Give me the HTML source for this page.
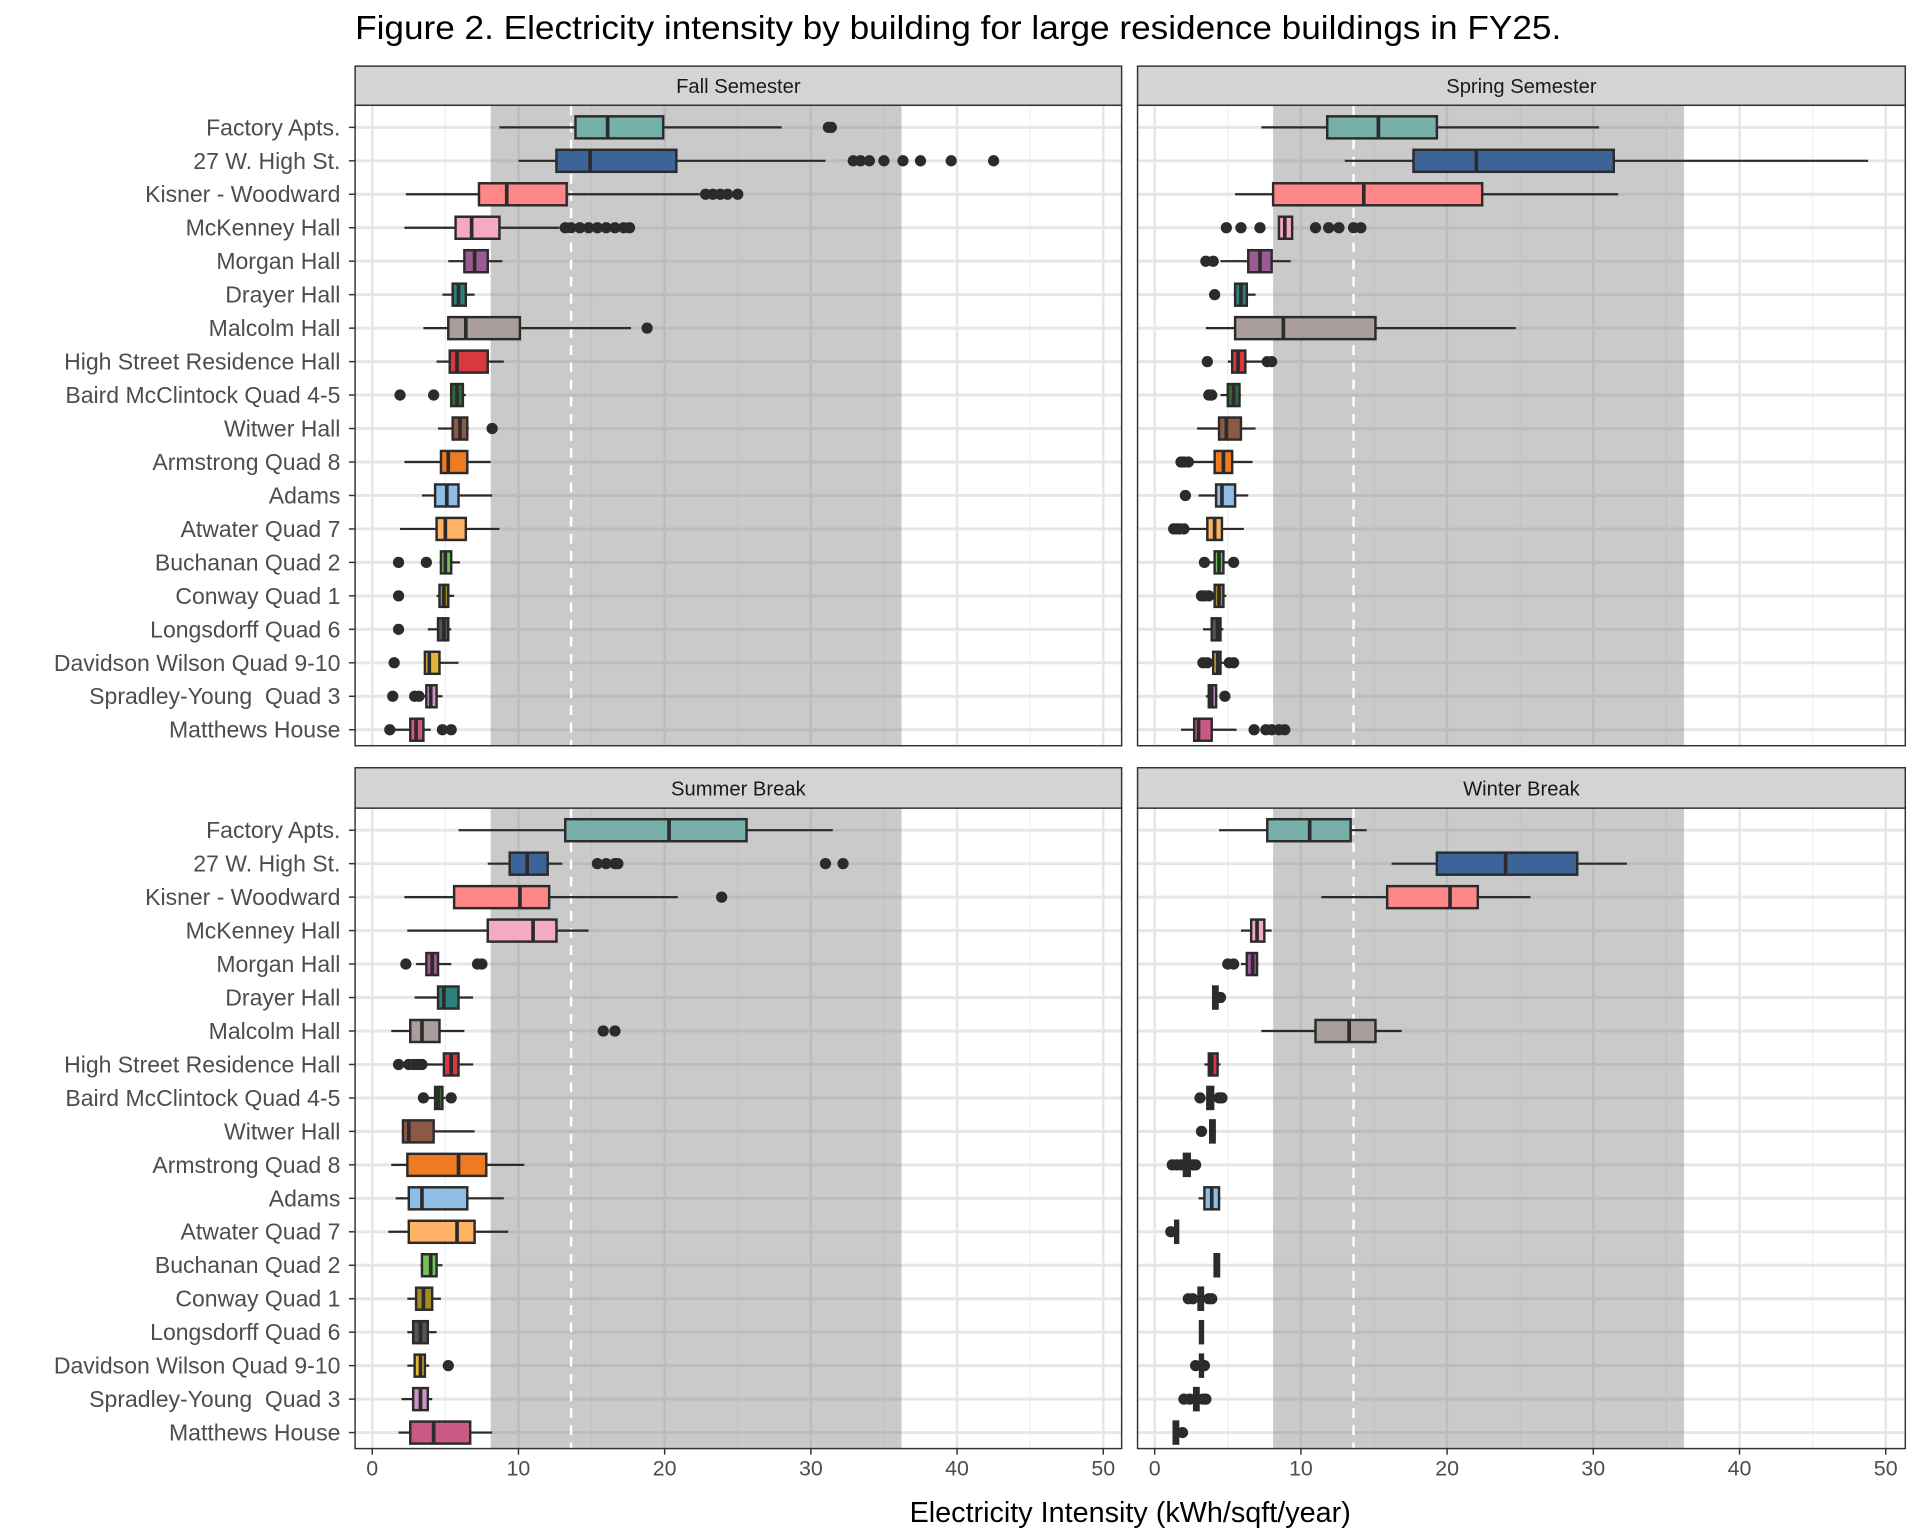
<!DOCTYPE html>
<html><head><meta charset="utf-8"><style>
html,body{margin:0;padding:0;background:#fff;}
svg{display:block;font-family:"Liberation Sans",Arial,sans-serif;}
text{white-space:pre;}
</style></head><body>
<svg id="chart" width="1920" height="1536" viewBox="0 0 1568 1254.4" xmlns="http://www.w3.org/2000/svg"></svg>
<script>
const buildings = ["Factory Apts.","27 W. High St.","Kisner - Woodward","McKenney Hall","Morgan Hall","Drayer Hall","Malcolm Hall","High Street Residence Hall","Baird McClintock Quad 4-5","Witwer Hall","Armstrong Quad 8","Adams","Atwater Quad 7","Buchanan Quad 2","Conway Quad 1","Longsdorff Quad 6","Davidson Wilson Quad 9-10","Spradley-Young  Quad 3","Matthews House"];
const colors = ["#76b0a8","#3c6496","#ff8787","#f4a9c4","#9c5a92","#2e7f7a","#aa9e9c","#d9383f","#2d6b3a","#8a5a44","#ee7a22","#8fbde6","#ffb266","#72c25a","#a48c22","#555555","#e3b43c","#c994c7","#c85a85"];
const xTicks = [0,10,20,30,40,50];
const bandRange = [8.1,36.2];
const refLine = 13.6;
const panelTitles = ["Fall Semester","Spring Semester","Summer Break","Winter Break"];
// [low whisker, q1, median, q3, high whisker]
const fallStats = [[8.7,13.9,16.1,19.9,28],[10,12.6,14.9,20.8,31],[2.3,7.3,9.2,13.3,22.4],[2.2,5.7,6.8,8.7,12.8],[5.2,6.3,7.0,7.9,8.9],[4.8,5.5,5.9,6.4,7],[3.5,5.2,6.4,10.1,17.7],[4.4,5.3,5.8,7.9,9],[5.4,5.4,5.8,6.2,6.4],[4.5,5.5,6,6.5,6.6],[2.2,4.7,5.2,6.5,8.1],[3.4,4.3,5.1,5.9,8.2],[1.9,4.4,5.0,6.4,8.7],[4.6,4.7,5,5.4,6],[4.4,4.6,4.9,5.2,5.6],[3.8,4.5,4.9,5.2,5.4],[3.6,3.6,3.9,4.6,5.9],[3.4,3.7,4,4.4,4.8],[1.5,2.6,3,3.5,4]];
const fallOut = [[31.2,31.4],[32.9,33.4,34,35,36.3,37.5,39.6,42.5],[22.8,23.3,23.8,24.3,25],[13.2,13.6,14.2,14.8,15.4,16,16.6,17.2,17.6],[],[],[18.8],[],[1.9,4.2],[8.2],[],[],[],[1.8,3.7],[1.8],[1.8],[1.5],[1.4,2.9,3.2],[1.2,4.8,5.4]];
const springStats = [[7.3,11.8,15.3,19.3,30.4],[13,17.7,22,31.4,48.8],[5.5,8.1,14.3,22.4,31.7],[8.5,8.5,8.9,9.4,9.5],[4.5,6.4,7.2,8,9.3],[5.4,5.5,5.9,6.3,6.9],[3.5,5.5,8.8,15.1,24.7],[5,5.3,5.7,6.2,7.4],[4.5,5,5.4,5.8,5.9],[2.9,4.4,4.9,5.9,6.9],[2.5,4.1,4.7,5.3,6.7],[3,4.2,4.6,5.5,6.4],[2.2,3.6,4.1,4.6,6.1],[3.5,4.1,4.4,4.7,5.3],[3.9,4.1,4.4,4.7,4.9],[3.3,3.9,4.3,4.5,4.7],[3.4,4.0,4.3,4.5,4.9],[3.5,3.7,3.9,4.2,4.3],[1.8,2.7,3,3.9,5.6]];
const springOut = [[],[],[],[4.9,5.9,7.2,11,11.9,12.6,13.6,14.1],[3.5,4.0],[4.1],[],[3.6,7.7,8.0],[3.7,3.9],[],[1.8,2.0,2.3],[2.1],[1.3,1.5,1.7,2.0],[3.4,5.4],[3.2,3.4,3.7],[],[3.3,3.6,5.1,5.4],[4.8],[6.8,7.6,8,8.5,8.9]];
const summerStats = [[5.9,13.2,20.3,25.6,31.5],[7.9,9.4,10.6,12,13],[2.2,5.6,10.1,12.1,20.9],[2.4,7.9,11,12.6,14.8],[3.0,3.7,4.1,4.5,5.4],[2.9,4.5,4.9,5.9,6.9],[1.3,2.6,3.4,4.6,6.3],[3.6,4.9,5.4,5.9,6.9],[3.8,4.3,4.5,4.8,5.0],[2.1,2.1,2.5,4.2,7],[1.3,2.4,5.9,7.8,10.4],[1.6,2.5,3.4,6.5,9],[1.1,2.5,5.8,7,9.3],[3.3,3.4,4.0,4.4,4.8],[2.4,3.0,3.5,4.1,4.7],[2.4,2.8,3.3,3.8,4.4],[2.4,2.9,3.3,3.6,3.9],[2,2.8,3.3,3.8,4.1],[1.8,2.6,4.2,6.7,8.2]];
const summerOut = [[],[15.4,16,16.6,16.8,31,32.2],[23.9],[],[2.3,7.2,7.5],[],[15.8,16.6],[1.8,2.5,2.8,3,3.2,3.4],[3.5,5.4],[],[],[],[],[],[],[],[5.2],[],[]];
const winterStats = [[4.4,7.7,10.6,13.4,14.5],[16.2,19.3,24,28.9,32.3],[11.4,15.9,20.2,22.1,25.7],[5.9,6.6,7.0,7.5,8],[5.9,6.3,6.7,7.0,7.1],[4.0,4.0,4.1,4.3,4.3],[7.3,11,13.3,15.1,16.9],[3.4,3.7,3.9,4.3,4.5],[3.5,3.6,3.8,4.0,4.1],[3.8,3.8,4.0,4.1,4.2],[2.0,2.0,2.2,2.4,2.5],[3,3.4,3.9,4.4,4.5],[1.4,1.4,1.5,1.6,1.6],[4.1,4.1,4.2,4.4,4.4],[2.9,3.0,3.1,3.3,3.3],[3.1,3.1,3.2,3.3,3.3],[3.0,3.1,3.2,3.3,3.4],[2.6,2.7,2.8,3.0,3.1],[1.3,1.3,1.4,1.6,1.6]];
const winterOut = [[],[],[],[],[5,5.4],[4.5],[],[],[3.1,4.4,4.6],[3.2],[1.2,1.5,1.8,2.6,2.8],[],[1.1],[],[2.3,2.6,3.7,3.9],[],[2.8,3.4],[2.0,2.4,3.3,3.5],[1.9]];

const NS="http://www.w3.org/2000/svg";
const svg=document.getElementById('chart');
function mk(tag,attrs,parent){const e=document.createElementNS(NS,tag);for(const k in attrs)e.setAttribute(k,attrs[k]);(parent||svg).appendChild(e);return e;}

const title=mk('text',{x:290,y:32,'font-size':27,fill:'#000',textLength:985,lengthAdjust:'spacingAndGlyphs'});


title.textContent='Figure 2. Electricity intensity by building for large residence buildings in FY25.';

const panels=[
 {x0:290,x1:916,st:54,y0:86,y1:609,stats:fallStats,out:fallOut,name:'fall'},
 {x0:929,x1:1556,st:54,y0:86,y1:609,stats:springStats,out:springOut,name:'spring'},
 {x0:290,x1:916,st:627,y0:660,y1:1183,stats:summerStats,out:summerOut,name:'summer'},
 {x0:929,x1:1556,st:627,y0:660,y1:1183,stats:winterStats,out:winterOut,name:'winter'}];

panels.forEach((p,pi)=>{
  const g=mk('g',{});
  
  
  const zero=p.x0+14;
  const xs=v=>zero+v*11.94;
  const ys=i=>p.y0+18+i*27.33;
  const s=mk('rect',{x:p.x0,y:p.st,width:p.x1-p.x0,height:p.y0-p.st,fill:'#d4d4d4',stroke:'#333','stroke-width':1.2},g);
  
  
  const st=mk('text',{x:(p.x0+p.x1)/2,y:(p.st+p.y0)/2+6,'text-anchor':'middle','font-size':16.5,fill:'#1a1a1a'},g);
  
  
  st.textContent=panelTitles[pi];
  mk('rect',{x:p.x0,y:p.y0,width:p.x1-p.x0,height:p.y1-p.y0,fill:'#fff'},g);
  for(let v=5;v<=55;v+=10){if(xs(v)<p.x1)mk('line',{x1:xs(v),x2:xs(v),y1:p.y0,y2:p.y1,stroke:'#f0f0f0','stroke-width':1},g);}
  xTicks.forEach(v=>mk('line',{x1:xs(v),x2:xs(v),y1:p.y0,y2:p.y1,stroke:'#e6e6e6','stroke-width':2},g));
  buildings.forEach((b,i)=>mk('line',{x1:p.x0,x2:p.x1,y1:ys(i),y2:ys(i),stroke:'#e6e6e6','stroke-width':2.4},g));
  const band=mk('rect',{x:xs(bandRange[0]),y:p.y0,width:xs(bandRange[1])-xs(bandRange[0]),height:p.y1-p.y0,fill:'#8a8a8a','fill-opacity':0.45},g);
  
  
  const rl=mk('line',{x1:xs(refLine),x2:xs(refLine),y1:p.y0,y2:p.y1,stroke:'#fff','stroke-width':2,'stroke-dasharray':'8,6'},g);
  
  
  p.stats.forEach((d,i)=>{
    const y=ys(i),h=18;
    const bg=mk('g',{},g);
    
    
    mk('line',{x1:xs(d[0]),x2:xs(d[1]),y1:y,y2:y,stroke:'#2b2b2b','stroke-width':1.8},bg);
    mk('line',{x1:xs(d[3]),x2:xs(d[4]),y1:y,y2:y,stroke:'#2b2b2b','stroke-width':1.8},bg);
    mk('rect',{x:xs(d[1]),y:y-h/2,width:Math.max(xs(d[3])-xs(d[1]),1),height:h,fill:colors[i],stroke:'#2b2b2b','stroke-width':2},bg);
    mk('line',{x1:xs(d[2]),x2:xs(d[2]),y1:y-h/2,y2:y+h/2,stroke:'#2b2b2b','stroke-width':3},bg);
    p.out[i].forEach(v=>mk('circle',{cx:xs(v),cy:y,r:4.6,fill:'#2b2b2b'},bg));
  });
  mk('rect',{x:p.x0,y:p.y0,width:p.x1-p.x0,height:p.y1-p.y0,fill:'none',stroke:'#333','stroke-width':1.2},g);
  if(p.x0===290){
    buildings.forEach((b,i)=>{
      mk('line',{x1:p.x0-5,x2:p.x0,y1:ys(i),y2:ys(i),stroke:'#333','stroke-width':1.2},g);
      const t=mk('text',{x:p.x0-12,y:ys(i)+6.5,'text-anchor':'end','font-size':18.8,fill:'#4d4d4d'},g);
      
      
      t.textContent=b;
    });
  }
  if(p.y0===660){
    xTicks.forEach(v=>{
      mk('line',{x1:xs(v),x2:xs(v),y1:p.y1,y2:p.y1+5,stroke:'#333','stroke-width':1.2},g);
      const t=mk('text',{x:xs(v),y:p.y1+22,'text-anchor':'middle','font-size':17.5,fill:'#4d4d4d'},g);
      
      
      t.textContent=v;
    });
  }
});
const xt=mk('text',{x:923,y:1243,'text-anchor':'middle','font-size':23.5,fill:'#000'});


xt.textContent='Electricity Intensity (kWh/sqft/year)';
</script>
</body></html>
